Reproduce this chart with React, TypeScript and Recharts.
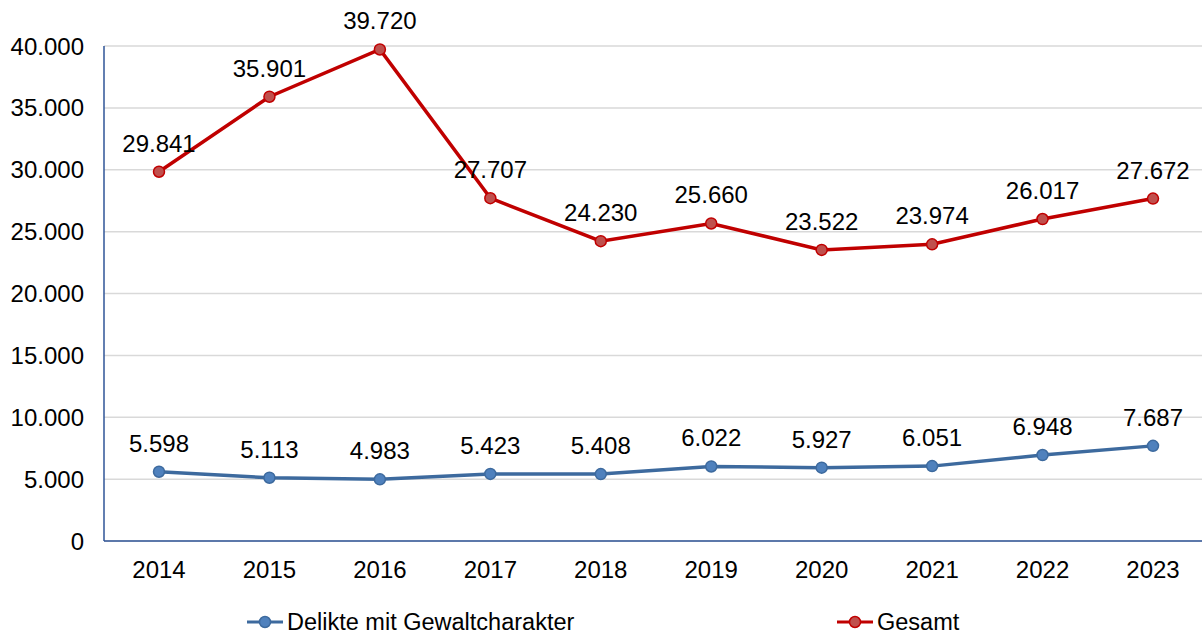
import { LineChart, Line, XAxis, YAxis, CartesianGrid, LabelList } from 'recharts';

const years = ['2014', '2015', '2016', '2017', '2018', '2019', '2020', '2021', '2022', '2023'];
const gewalt = [5598, 5113, 4983, 5423, 5408, 6022, 5927, 6051, 6948, 7687];
const gesamt = [29841, 35901, 39720, 27707, 24230, 25660, 23522, 23974, 26017, 27672];
const yTicks = [0, 5000, 10000, 15000, 20000, 25000, 30000, 35000, 40000];

const data = years.map((year, i) => ({ year, gewalt: gewalt[i], gesamt: gesamt[i] }));

// German thousands separator
const fmt = (v: any) => String(v).replace(/\B(?=(\d{3})+(?!\d))/g, '.');

const FONT = 'Arial, "Liberation Sans", sans-serif';
const FS = 24;
const BLUE_LINE = '#3D6A9E';
const BLUE_DOT = '#4F81BD';
const RED_LINE = '#C00000';
const RED_DOT = '#C0504D';

const LegendItem = ({ left, line, dot, label }: { left: number; line: string; dot: string; label: string }) => (
  <div style={{ position: 'absolute', left, top: 608, display: 'flex', alignItems: 'center', height: 28 }}>
    <svg width={36} height={14} style={{ marginRight: 4 }}>
      <line x1={0} y1={7} x2={36} y2={7} stroke={line} strokeWidth={3} />
      <circle cx={18} cy={7} r={5.5} fill={dot} stroke={line} strokeWidth={1.5} />
    </svg>
    <span style={{ fontFamily: FONT, fontSize: 23.5, color: '#000' }}>{label}</span>
  </div>
);

const App = () => {
  return (
    <div style={{ position: 'absolute', left: 0, top: 0, width: 1202, height: 635, overflow: 'hidden', background: '#fff' }}>
      <LineChart
        width={1208}
        height={635}
        data={data}
        margin={{ top: 46, right: 0, left: 0, bottom: 34 }}
      >
        <CartesianGrid vertical={false} stroke="#D9D9D9" strokeWidth={1.5} />
        <XAxis
          dataKey="year"
          height={60}
          padding={{ left: 55, right: 55 }}
          axisLine={{ stroke: '#2F5597', strokeWidth: 1.5 }}
          tickLine={false}
          tickSize={0}
          tickMargin={20}
          tick={{ fontSize: FS, fill: '#000', fontFamily: FONT }}
        />
        <YAxis
          width={104}
          domain={[0, 40000]}
          ticks={yTicks}
          tickFormatter={fmt}
          axisLine={{ stroke: '#2F5597', strokeWidth: 1.5 }}
          tickLine={false}
          tickSize={0}
          tickMargin={20}
          tick={{ fontSize: FS, fill: '#000', fontFamily: FONT }}
        />
        <Line
          dataKey="gewalt"
          name="Delikte mit Gewaltcharakter"
          stroke={BLUE_LINE}
          strokeWidth={3.5}
          dot={{ r: 5.5, fill: BLUE_DOT, stroke: BLUE_LINE, strokeWidth: 1.5 }}
          isAnimationActive={false}
        >
          <LabelList dataKey="gewalt" position="top" offset={20} formatter={fmt} style={{ fontSize: FS, fill: '#000', fontFamily: FONT }} />
        </Line>
        <Line
          dataKey="gesamt"
          name="Gesamt"
          stroke={RED_LINE}
          strokeWidth={3.5}
          dot={{ r: 5.5, fill: RED_DOT, stroke: RED_LINE, strokeWidth: 1.5 }}
          isAnimationActive={false}
        >
          <LabelList dataKey="gesamt" position="top" offset={20} formatter={fmt} style={{ fontSize: FS, fill: '#000', fontFamily: FONT }} />
        </Line>
      </LineChart>
      <LegendItem left={247} line={BLUE_LINE} dot={BLUE_DOT} label="Delikte mit Gewaltcharakter" />
      <LegendItem left={837} line={RED_LINE} dot={RED_DOT} label="Gesamt" />
    </div>
  );
};

export default App;
